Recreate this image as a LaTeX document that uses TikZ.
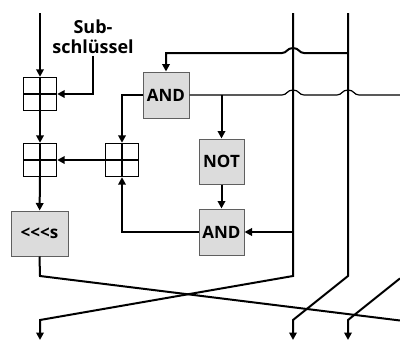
\documentclass[tikz,border=0pt]{standalone}
\usepackage{fontspec}
\setmainfont{Open Sans}
\usepackage{tikz}
\usetikzlibrary{arrows.meta}
\definecolor{gatefill}{RGB}{220,220,220}
\definecolor{gateline}{RGB}{95,95,95}
% line jumping over a vertical wire at x=#1, height #2 (left to right)
\newcommand{\hop}[2]{-- ({#1-11},#2) .. controls ({#1-6},#2) and ({#1-6},{#2-5}) .. (#1,{#2-5}) .. controls ({#1+6},{#2-5}) and ({#1+6},#2) .. ({#1+11},#2)}

\begin{document}
\begin{tikzpicture}[x=1pt, y=-1pt, line width=2pt, >={Triangle[length=7.5pt,width=7.5pt]},
  every node/.style={font=\bfseries\fontsize{17}{20}\selectfont},
  xorbox/.style={draw, line width=1.4pt, minimum size=33pt, inner sep=0pt,
    path picture={\draw[line width=1.4pt] (path picture bounding box.north) -- (path picture bounding box.south)
      (path picture bounding box.west) -- (path picture bounding box.east);}},
  gatebox/.style={draw=gateline, fill=gatefill, line width=1pt, minimum width=46pt, minimum height=46pt, inner sep=0pt}]
  \useasboundingbox (0,0) rectangle (400,341);
  % boxes
  \node[xorbox] (xa) at (40,94) {};
  \node[xorbox] (xb) at (40,160) {};
  \node[xorbox] (xc) at (122,160) {};
  \node[gatebox] (anda) at (166,95) {AND};
  \node[gatebox, minimum width=45pt, minimum height=45pt] (notg) at (221.5,161.5) {NOT};
  \node[gatebox, minimum width=45pt] (andb) at (221.5,232) {AND};
  \node[gatebox, minimum width=57pt, minimum height=45pt] (rot) at (39.5,233.5) {{<}{<}{<}s};
  \node[align=center, inner sep=1pt, font=\bfseries\fontsize{18}{20}\selectfont] (sub) at (93,37) {Sub-\\schlüssel};
  % wire ends
  \coordinate (inL) at (40,13);
  \coordinate (inM) at (293,13);
  \coordinate (inR) at (348,13);
  \coordinate (jR) at (348,53);
  \coordinate (kL) at (40,276);
  \coordinate (kM) at (293,276);
  \coordinate (kR) at (348,276);
  \coordinate (bL) at (40,320);
  \coordinate (bM) at (293,320);
  \coordinate (bR) at (348,320);
  \coordinate (outL) at (40,340);
  \coordinate (outM) at (293,340);
  \coordinate (outR) at (348,340);
  \coordinate (eA) at (400,95);
  \coordinate (eX) at (400,320.5);
  \coordinate (eY) at (400,278.4);
  % left column
  \draw[->] (inL) -- (xa.north);
  \draw[->] (sub.south) |- (xa.east);
  \draw[->] (xa) -- (xb);
  \draw[->] (xc) -- (xb);
  \draw[->] (xb) -- (rot);
  \draw (rot.south) -- (kL) -- (eX);
  % gates
  \draw[->] (anda.west) -| (xc.north);
  \draw[<-] (anda.north) |- (250,53) \hop{293}{53} -- (jR);
  \draw[line width=1.2pt] (anda.east) \hop{293}{95} \hop{348}{95} -- (eA);
  \draw[->] (notg.north |- anda.east) -- (notg);
  \draw[->] (notg) -- (andb);
  \draw[->] (andb.east -| inM) -- (andb);
  \draw[->] (andb.west) -| (xc.south);
  % right wires, crossed at the bottom
  \draw[->] (inM) -- (kM) -- (bL) -- (outL);
  \draw[->] (inR) -- (kR) -- (bM) -- (outM);
  \draw[->] (eY) -- (bR) -- (outR);
\end{tikzpicture}
\end{document}
